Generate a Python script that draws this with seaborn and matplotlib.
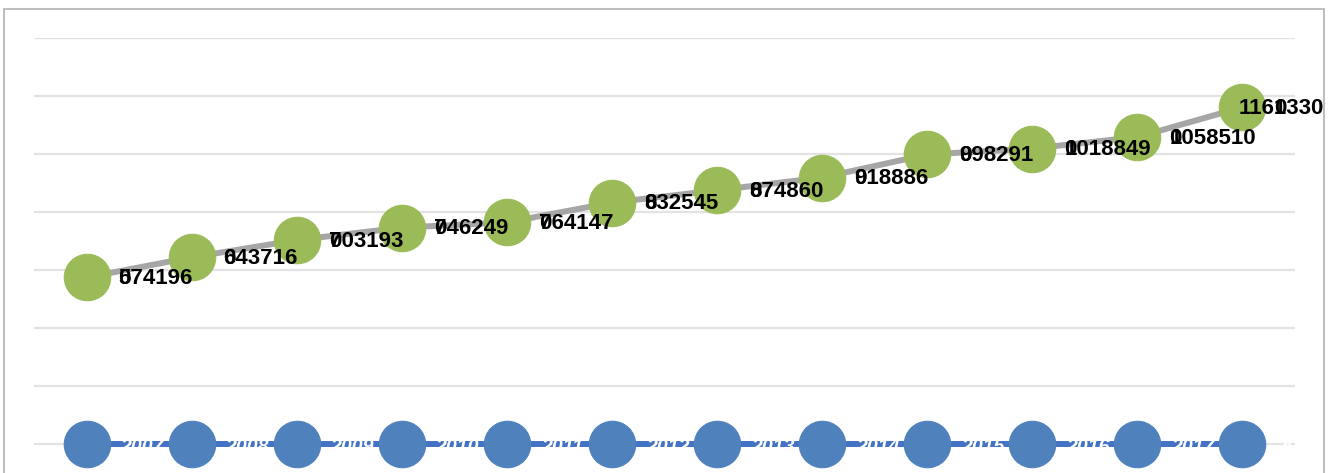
import matplotlib
matplotlib.use("Agg")
import matplotlib.pyplot as plt
import seaborn as sns
import pandas as pd
import numpy as np
from matplotlib.patches import Rectangle

# values
years = ["2007", "2008", "2009", "2010", "2011", "2012",
         "2013", "2014", "2015", "2016", "2017", "2018"]
values = [574196, 643716, 703193, 746249, 764147, 832545,
          874860, 918886, 998291, 1018849, 1058510, 1161330]
base = [0] * len(years)

sns.set_theme(style="white")
plt.rcParams['font.family'] = ['Liberation Sans', 'DejaVu Sans']

GREEN = "#9BBB59"
BLUE = "#4F81BD"
LINE_BLUE = "#4472C4"
GRAY_LINE = "#A6A6A6"
GRID = "#E3E3E3"

df = pd.DataFrame({"pos": np.arange(len(years)), "year": years,
                   "value": values, "base": base})

fig = plt.figure(figsize=(13.41, 4.73), dpi=100)
ax = fig.add_axes([34 / 1341, 0, (1295 - 34) / 1341, 1 - 38 / 473])

# green series with gray connecting line
sns.lineplot(data=df, x="pos", y="value", ax=ax, color=GRAY_LINE, linewidth=4.3,
             marker="o", markersize=33.5, markerfacecolor=GREEN,
             markeredgecolor=GREEN, zorder=3)
# blue series along zero
sns.lineplot(data=df, x="pos", y="base", ax=ax, color=LINE_BLUE, linewidth=4.3,
             marker="o", markersize=33.5, markerfacecolor=BLUE,
             markeredgecolor=BLUE, zorder=3)

ax.set_xlim(-0.5, len(years) - 0.5)
ax.set_ylim(-100000, 1400000)
ax.set_yticks(np.arange(0, 1400001, 200000))
ax.yaxis.grid(True, color=GRID, linewidth=1.6)
ax.set_axisbelow(True)
ax.set_xticks([])
ax.tick_params(left=False, labelleft=False)
ax.set_xlabel("")
ax.set_ylabel("")
for s in ax.spines.values():
    s.set_visible(False)

# data labels (the reference stacks a "0" label on each value label)
n = len(years)
for i, (v, yr) in enumerate(zip(values, years)):
    ax.annotate("0", (i, v), xytext=(32, -1), textcoords="offset pixels",
                ha="left", va="center", fontsize=16, fontweight="bold",
                color="black", zorder=5, annotation_clip=False)
    if i == n - 1:
        ax.annotate(f"{v}", (i, v), xytext=(82, -1), textcoords="offset pixels",
                    ha="right", va="center", fontsize=16, fontweight="bold",
                    color="black", zorder=5, annotation_clip=False)
    else:
        ax.annotate(f"{v}", (i, v), xytext=(32, -1), textcoords="offset pixels",
                    ha="left", va="center", fontsize=16, fontweight="bold",
                    color="black", zorder=5, annotation_clip=False)
    # year labels in white on the blue line
    ax.annotate(yr, (i, 0), xytext=(34, -3), textcoords="offset pixels",
                ha="left", va="center", fontsize=14, fontweight="bold",
                fontstyle="italic", color="white", zorder=4,
                annotation_clip=False)

# chart border
fig.patches.append(Rectangle((4 / 1341, -0.05), (1324 - 4) / 1341, 1.05 - 9 / 473,
                             transform=fig.transFigure, fill=False,
                             edgecolor="#BFBFBF", linewidth=1.5, zorder=0))

fig.savefig("out.png", dpi=100)
